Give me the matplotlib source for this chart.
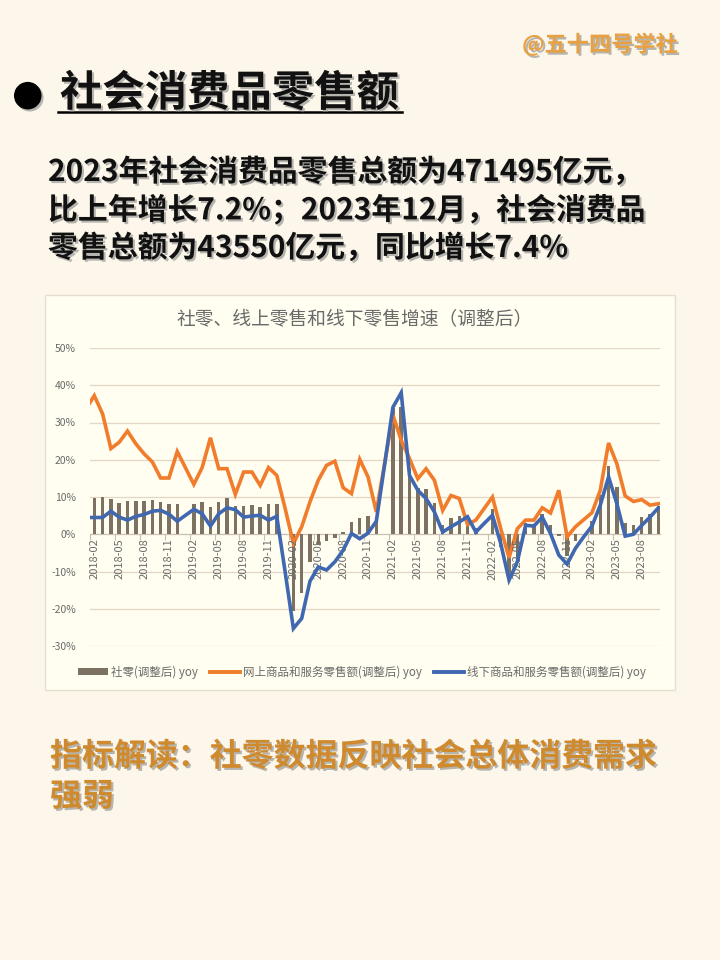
import numpy as np
import matplotlib
matplotlib.use("Agg")
import matplotlib.pyplot as plt
import matplotlib.patheffects as pe
from matplotlib.patches import Rectangle
from matplotlib.lines import Line2D

plt.rcParams['font.family'] = ['Noto Sans CJK SC', 'DejaVu Sans']

# monthly data, 2018-01 .. 2023-10
months = [f"{y}-{m:02d}" for y in range(2018, 2024) for m in range(1, 13)][:70]

retail_yoy = [
    np.nan, 9.7, 10.1, 9.4, 8.5, 9.0, 8.8, 9.0, 9.2, 8.6, 8.1, 8.2,
    np.nan, 8.2, 8.7, 7.2, 8.6, 9.8, 7.6, 7.5, 7.8, 7.2, 8.0, 8.0,
    np.nan, -20.5, -15.8, -7.5, -2.8, -1.8, -1.1, 0.5, 3.3, 4.3, 5.0, 4.6,
    np.nan, 33.8, 34.2, 17.7, 12.4, 12.1, 8.5, 2.5, 4.4, 4.9, 3.9, 1.7,
    np.nan, 6.7, -3.5, -11.1, -6.7, 3.1, 2.7, 5.4, 2.5, -0.5, -5.9, -1.8,
    np.nan, 3.5, 10.6, 18.4, 12.7, 3.1, 2.5, 4.6, 5.5, 7.6,
]
online_yoy = [
    33.7, 37.2, 32.3, 23.0, 24.7, 27.7, 24.3, 21.6, 19.4, 15.1, 15.1, 22.2,
    17.8, 13.4, 17.9, 25.9, 17.6, 17.6, 10.7, 16.7, 16.7, 13.1, 17.9, 15.8,
    7.0, -2.5, 2.0, 8.7, 14.5, 18.5, 19.6, 12.5, 10.9, 20.1, 15.4, 6.0,
    19.0, 32.0, 25.2, 20.3, 14.9, 17.6, 14.5, 6.4, 10.4, 9.6, 2.6, 3.8,
    6.9, 10.0, 1.5, -6.3, 1.5, 3.8, 3.8, 7.1, 5.7, 11.8, -0.7, 2.0,
    3.9, 5.8, 11.8, 24.5, 18.9, 10.3, 8.8, 9.3, 7.8, 8.2,
]
offline_yoy = [
    4.5, 4.5, 4.5, 6.2, 4.6, 3.8, 4.8, 5.3, 6.2, 6.4, 5.4, 3.5,
    5.1, 6.7, 5.5, 2.2, 5.5, 7.1, 6.6, 4.6, 4.9, 5.1, 3.8, 4.8,
    -10.0, -25.3, -22.6, -12.6, -8.8, -9.6, -7.4, -4.3, 0.2, -1.2, 0.3, 3.5,
    18.7, 34.1, 38.0, 15.8, 11.8, 9.6, 6.0, 0.6, 2.0, 3.3, 4.7, 0.6,
    2.9, 5.1, -2.5, -12.3, -7.4, 2.4, 2.2, 4.6, 0.2, -5.6, -8.0, -3.8,
    -0.7, 2.2, 7.8, 15.4, 8.2, -0.5, 0.0, 2.4, 4.6, 7.1,
]
y_ticks = [-30, -20, -10, 0, 10, 20, 30, 40, 50]

W, H = 720, 960
bg = '#FCF7EA'
fig = plt.figure(figsize=(W / 100, H / 100), dpi=100, facecolor=bg)


def fx(x):
    return x / W


def fy(y):
    return 1 - y / H


shadow = [pe.SimplePatchShadow(offset=(1.5, -1.5), shadow_rgbFace='#888888', alpha=0.6), pe.Normal()]

# header
fig.text(fx(678), fy(45), '@五十四号学社', fontsize=16, fontweight='bold', color='#E8A040',
         ha='right', va='center', path_effects=shadow)
fig.text(fx(12), fy(95), '●', fontsize=26, color='black', ha='left', va='center',
         family='DejaVu Sans', path_effects=shadow)
fig.text(fx(60), fy(94), '社会消费品零售额', fontsize=30.5, fontweight='bold', color='#111111',
         ha='left', va='center', path_effects=shadow)
fig.add_artist(Line2D([fx(58), fx(402)], [fy(112), fy(112)], color='black', lw=1.8,
                      path_effects=shadow))

para = ['2023年社会消费品零售总额为471495亿元，',
        '比上年增长7.2%；2023年12月，社会消费品',
        '零售总额为43550亿元，同比增长7.4%']
for k, line in enumerate(para):
    fig.text(fx(48), fy(172 + 38 * k), line, fontsize=21.5, fontweight='bold', color='#111111',
             ha='left', va='center', path_effects=shadow)

fig.text(fx(50), fy(757), '指标解读：社零数据反映社会总体消费需求', fontsize=23, fontweight='bold',
         color='#D08A2E', ha='left', va='center', path_effects=shadow)
fig.text(fx(50), fy(797), '强弱', fontsize=23, fontweight='bold',
         color='#D08A2E', ha='left', va='center', path_effects=shadow)

# chart panel
fig.add_artist(Rectangle((fx(45), fy(690)), fx(630), 395 / H, transform=fig.transFigure,
                         facecolor='#FFFEF0', edgecolor='#E4DFCF', lw=1, zorder=0))
fig.text(fx(355), fy(320), '社零、线上零售和线下零售增速（调整后）', fontsize=13.5,
         color='#6A6A6A', ha='center', va='center')

ax = fig.add_axes([fx(90), fy(646), fx(570), 298 / H])
ax.set_facecolor('none')
x = np.arange(len(months))

ax.bar(x, retail_yoy, width=0.42, color='#7D7262', zorder=2)
ax.plot(x, online_yoy, color='#F07C2C', lw=2.6, zorder=3, solid_joinstyle='miter')
ax.plot(x, offline_yoy, color='#4068B0', lw=2.6, zorder=4, solid_joinstyle='miter')

ax.set_xlim(0.48, 69.2)
ax.set_ylim(-30, 50)
ax.set_yticks(y_ticks)
ax.set_yticklabels([f'{v}%' for v in y_ticks], fontsize=7.5, color='#6A6A6A')
ax.tick_params(axis='y', length=0, pad=10)
ax.yaxis.grid(True, color='#E2D6C6', lw=0.9)
ax.set_axisbelow(True)
for s in ['top', 'right', 'left']:
    ax.spines[s].set_visible(False)
ax.spines['bottom'].set_position(('data', 0))
ax.spines['bottom'].set_color('#C8C0B4')
ax.spines['bottom'].set_zorder(1)

ax.set_xticks(x[1::3] - 0.5)
ax.set_xticklabels([])
ax.tick_params(axis='x', length=4, color='#C8C0B4', direction='out')
for i in x[1::3]:
    ax.annotate(months[i], (i, 0), xytext=(0, -3), textcoords='offset points',
                rotation=90, ha='center', va='top', fontsize=8, color='#6A6A6A')

handles = [Rectangle((0, 0), 1, 1, facecolor='#7D7262'),
           Line2D([], [], color='#F07C2C', lw=2.8),
           Line2D([], [], color='#4068B0', lw=2.8)]
labels = ['社零(调整后) yoy', '网上商品和服务零售额(调整后) yoy', '线下商品和服务零售额(调整后) yoy']
fig.legend(handles, labels, loc='center', bbox_to_anchor=(fx(362), fy(672)), ncol=3,
           frameon=False, fontsize=8.3, handlelength=2.6, handleheight=0.5, columnspacing=1.0,
           handletextpad=0.3, labelcolor='#6A6A6A')

fig.savefig('out.png', dpi=100, facecolor=bg)
